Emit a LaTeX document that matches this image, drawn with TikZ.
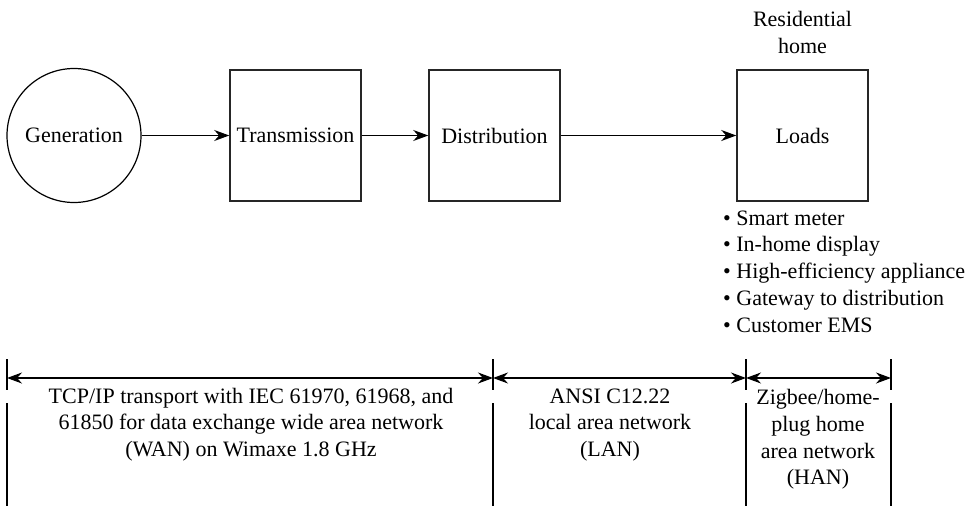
\documentclass[tikz,border=0pt]{standalone}
\usepackage{fontspec}
\setmainfont{Liberation Serif}
\usetikzlibrary{arrows.meta}
\begin{document}
\begin{tikzpicture}[x=1pt,y=-1pt,
  every node/.style={font=\fontsize{22}{26.7}\selectfont},
  blk/.style={draw=black!85, line width=1.5pt, minimum width=131pt, minimum height=131pt, inner sep=0pt},
  gen/.style={draw, circle, line width=1.2pt, minimum size=134pt, inner sep=0pt},
  flow/.style={line width=1.2pt, -{Stealth[length=15pt,width=11pt]}},
  dim/.style={line width=1.2pt, {Stealth[length=15pt,width=11pt]}-{Stealth[length=15pt,width=11pt]}},
  tick/.style={line width=1.2pt},
  lbl/.style={align=center, inner sep=0pt}]
\useasboundingbox (0,0) rectangle (967,506);

\node[gen] (gen) at (74,135.5) {Generation};
\node[blk] (tr) at (295.5,135.5) {Transmission};
\node[blk] (di) at (494.5,135.5) {Distribution};
\node[blk] (lo) at (802.5,135.5) {Loads};
\node[lbl] (res) at (802.5,32.5) {Residential\\home};

\draw[flow] (gen) -- (tr);
\draw[flow] (tr) -- (di);
\draw[flow] (di) -- (lo);

\node[lbl, align=left, anchor=west] (list) at (723,271.5)
  {• Smart meter\\• In-home display\\• High-efficiency appliance\\• Gateway to distribution\\• Customer EMS};

\foreach \n/\x in {p/7,q/493,r/746,s/891}{
  \coordinate (\n-top) at (\x,359);
  \coordinate (\n-mid) at (\x,378);
  \coordinate (\n-gapa) at (\x,390);
  \coordinate (\n-gapb) at (\x,403);
  \coordinate (\n-bot) at (\x,506);
  \draw[tick] (\n-top) -- (\n-gapa) (\n-gapb) -- (\n-bot);
}
\draw[dim] (p-mid) -- (q-mid);
\draw[dim] (q-mid) -- (r-mid);
\draw[dim] (r-mid) -- (s-mid);

\node[lbl] (wan) at (251,424.5) {TCP/IP transport with IEC 61970, 61968, and\\61850 for data exchange wide area network\\(WAN) on Wimaxe 1.8 GHz};
\node[lbl] (lan) at (610,425) {ANSI C12.22\\local area network\\(LAN)};
\node[lbl] (han) at (818,439.5) {Zigbee/home-\\plug home\\area network\\(HAN)};
\end{tikzpicture}
\end{document}
